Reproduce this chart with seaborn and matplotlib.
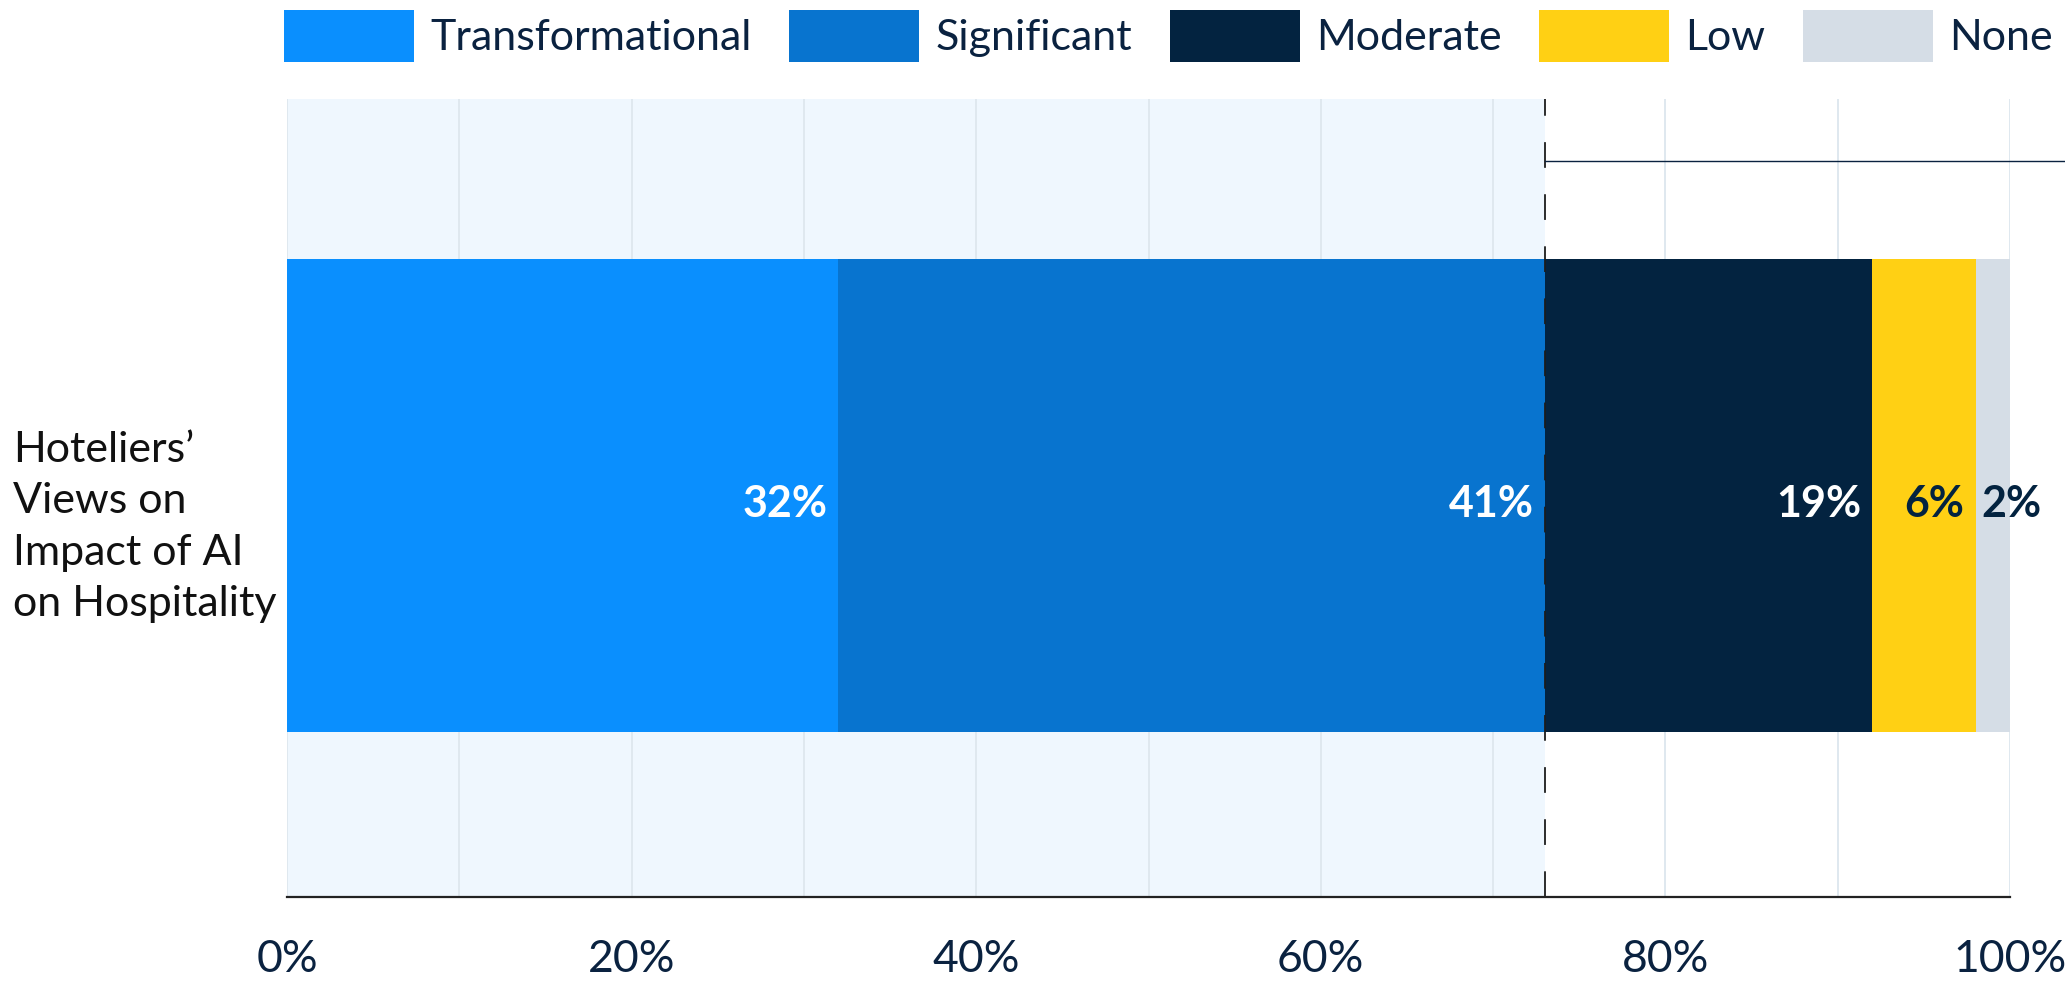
import matplotlib
matplotlib.use("Agg")
import matplotlib.pyplot as plt
from matplotlib.patches import Patch
import numpy as np
import pandas as pd
import seaborn as sns

# Survey categories and shares (%)
categories = ["Transformational", "Significant", "Moderate", "Low", "None"]
values = [32, 41, 19, 6, 2]
seg_colors = ["#0a8ffe", "#0874cf", "#032340", "#ffd014", "#d5dde6"]
label_colors = ["white", "white", "white", "#032340", "#032340"]
row_label = "Hoteliers’\nViews on\nImpact of AI\non Hospitality"
tick_values = [0, 20, 40, 60, 80, 100]
tick_labels = ["0%", "20%", "40%", "60%", "80%", "100%"]

NAVY = "#0a2240"
W, H, DPI = 2065, 981, 100

sns.set_theme(style="white")
plt.rcParams["font.family"] = ["Lato", "DejaVu Sans"]

fig = plt.figure(figsize=(W / DPI, H / DPI), dpi=DPI)
ax = fig.add_axes([287 / W, 1 - 897 / H, (2010 - 287) / W, (897 - 99) / H])

cum = np.cumsum(values)
df = pd.DataFrame({"group": [row_label] * len(values), "cum": cum,
                   "category": categories})

# stacked bar: draw cumulative totals from the longest down
for i in range(len(values) - 1, -1, -1):
    sns.barplot(data=df.iloc[[i]], x="cum", y="group", color=seg_colors[i],
                saturation=1, width=0.593, orient="h", linewidth=0, ax=ax,
                zorder=2)

top_two = cum[1]
ax.set_xlim(0, 100)
ax.set_ylim(0.503, -0.497)

# highlighted share region and its marker
ax.axvspan(0, top_two, color="#eff7fe", zorder=0, lw=0)
lw = 1.3
ax.axvline(top_two, color="#1c1c1c", lw=lw, ls=(0, (18.5 / lw, 19 / lw)),
           zorder=4)
ax.plot([top_two, 104], [-0.419, -0.419], color=NAVY, lw=1.0,
        clip_on=False, zorder=4)

# grid
ax.set_xticks(tick_values)
ax.set_xticklabels(tick_labels)
ax.set_xticks(np.arange(10, 100, 20), minor=True)
ax.grid(True, axis="x", which="both", color="#dfe8ef", lw=1.4)
ax.set_axisbelow(True)
ax.tick_params(axis="x", which="both", length=0, pad=30, labelsize=32,
               labelcolor=NAVY)
ax.set_yticks([])
ax.set_xlabel("")
ax.set_ylabel("")
for s in ["top", "right", "left"]:
    ax.spines[s].set_visible(False)
ax.spines["bottom"].set_color("#222222")
ax.spines["bottom"].set_linewidth(1.6)
ax.spines["bottom"].set_zorder(5)

# value labels
for i, (v, c) in enumerate(zip(values, cum)):
    if i == len(values) - 1:
        ax.annotate(f"{v}%", xy=(c - v, 0), xytext=(4.5, -15.5),
                    textcoords="offset points", ha="left", va="baseline",
                    fontsize=31, fontweight="bold", color=label_colors[i],
                    zorder=6)
    else:
        ax.annotate(f"{v}%", xy=(c, 0), xytext=(-8, -15.5),
                    textcoords="offset points", ha="right", va="baseline",
                    fontsize=31, fontweight="bold", color=label_colors[i],
                    zorder=6)

# row label
fig.text(13 / W, 1 - 527 / H, row_label, ha="left", va="center",
         fontsize=31, color="#111111", linespacing=1.43)

# legend
handles = [Patch(facecolor=c, edgecolor="none") for c in seg_colors]
ax.legend(handles, categories, ncol=5, loc="upper left",
          bbox_to_anchor=(284 / W, 1 - 10 / H), bbox_transform=fig.transFigure,
          frameon=False, borderpad=0, borderaxespad=0, handlelength=3.02,
          handleheight=1.48, handletextpad=0.37, columnspacing=0.88,
          fontsize=31, labelcolor=NAVY)

fig.savefig("out.png", dpi=DPI)
